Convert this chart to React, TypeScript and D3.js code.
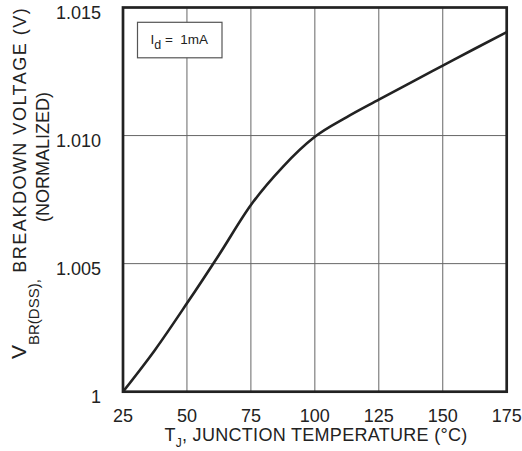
import { useEffect, useRef } from "react";
import * as d3 from "d3";

// junction temperature (°C) and normalized breakdown voltage
const tempC = [25, 37.5, 50, 62.5, 75, 87.5, 100, 112.5, 125, 137.5, 150, 162.5, 175];
const vbrNorm = [
  1.0, 1.00163, 1.00345, 1.00534, 1.00729, 1.00878, 1.00995, 1.01072, 1.0114, 1.01207,
  1.01273, 1.01339, 1.01404,
];
const xTicks = [25, 50, 75, 100, 125, 150, 175];
const yTicks = [1, 1.005, 1.01, 1.015];
const yTickLabels = ["1", "1.005", "1.010", "1.015"];

const FONT = "Liberation Sans, Arial, sans-serif";

export default function App() {
  const ref = useRef<SVGSVGElement>(null);

  useEffect(() => {
    const width = 522;
    const height = 451;
    const margin = { top: 7.5, right: 15.3, bottom: 59.3, left: 123 };
    const w = width - margin.left - margin.right;
    const h = height - margin.top - margin.bottom;

    const root = d3.select(ref.current);
    root.selectAll("*").remove();

    const svg = root
      .append("g")
      .attr("transform", "translate(" + margin.left + "," + margin.top + ")");

    const x = d3.scaleLinear().domain([25, 175]).range([0, w]);
    const y = d3.scaleLinear().domain([1, 1.015]).range([h, 0]);

    // grid
    svg
      .append("g")
      .selectAll("line.gx")
      .data(xTicks.slice(1, -1))
      .enter()
      .append("line")
      .attr("x1", (d) => x(d))
      .attr("x2", (d) => x(d))
      .attr("y1", 0)
      .attr("y2", h)
      .attr("stroke", "#666")
      .attr("stroke-width", 1);
    svg
      .append("g")
      .selectAll("line.gy")
      .data(yTicks.slice(1, -1))
      .enter()
      .append("line")
      .attr("x1", 0)
      .attr("x2", w)
      .attr("y1", (d) => y(d))
      .attr("y2", (d) => y(d))
      .attr("stroke", "#666")
      .attr("stroke-width", 1);

    // legend box
    const lg = svg.append("g").attr("transform", "translate(14.5,14.8)");
    lg.append("rect")
      .attr("width", 84.5)
      .attr("height", 35.5)
      .attr("fill", "#fff")
      .attr("stroke", "#555")
      .attr("stroke-width", 1.2);
    const lt = lg
      .append("text")
      .attr("x", 13)
      .attr("y", 22)
      .style("font-family", FONT)
      .style("font-size", "13.5px")
      .attr("fill", "#222");
    lt.append("tspan").text("I");
    lt.append("tspan").attr("dy", 5).style("font-size", "12.5px").text("d");
    lt.append("tspan").attr("dy", -5).text("\u00a0=\u00a0\u00a01mA");

    // curve
    const line = d3
      .line<number>()
      .x((d, i) => x(tempC[i]))
      .y((d) => y(d))
      .curve(d3.curveMonotoneX);
    svg
      .append("path")
      .datum(vbrNorm)
      .attr("d", line)
      .attr("fill", "none")
      .attr("stroke", "#222")
      .attr("stroke-width", 2.6);

    // frame
    svg
      .append("rect")
      .attr("width", w)
      .attr("height", h)
      .attr("fill", "none")
      .attr("stroke", "#222")
      .attr("stroke-width", 2.7);

    // tick labels
    svg
      .append("g")
      .selectAll("text")
      .data(xTicks)
      .enter()
      .append("text")
      .attr("x", (d) => x(d))
      .attr("y", h + 30)
      .attr("text-anchor", "middle")
      .style("font-family", FONT)
      .style("font-size", "18px")
      .attr("fill", "#222")
      .text((d) => d);
    svg
      .append("g")
      .selectAll("text")
      .data(yTicks)
      .enter()
      .append("text")
      .attr("x", -22)
      .attr("y", (d) => y(d) + 11)
      .attr("text-anchor", "end")
      .style("font-family", FONT)
      .style("font-size", "18px")
      .attr("fill", "#222")
      .text((d, i) => yTickLabels[i]);

    // x axis title
    const xt = root
      .append("text")
      .attr("x", 316)
      .attr("y", 441)
      .attr("text-anchor", "middle")
      .style("font-family", FONT)
      .style("font-size", "18px")
      .style("letter-spacing", "0.3px")
      .attr("fill", "#222");
    xt.append("tspan").text("T");
    xt.append("tspan").attr("dy", 6).style("font-size", "12px").text("J");
    xt.append("tspan").attr("dy", -6).text(", JUNCTION TEMPERATURE (°C)");

    // y axis title
    const yt = root
      .append("text")
      .attr("transform", "translate(25.5,359)rotate(-90)")
      .attr("text-anchor", "start")
      .style("font-family", FONT)
      .style("font-size", "18px")
      .attr("fill", "#222");
    yt.append("tspan").style("font-size", "21px").text("V");
    yt.append("tspan").attr("dy", 13).style("font-size", "15px").text("BR(DSS),");
    yt.append("tspan")
      .attr("dy", -13)
      .style("letter-spacing", "1.5px")
      .text(" BREAKDOWN VOLTAGE (V)");

    root
      .append("text")
      .attr("transform", "translate(49,157)rotate(-90)")
      .attr("text-anchor", "middle")
      .style("font-family", FONT)
      .style("font-size", "18px")
      .attr("fill", "#222")
      .text("(NORMALIZED)");
  }, []);

  return (
    <svg
      ref={ref}
      width={522}
      height={451}
      style={{ position: "absolute", left: 0, top: 0, background: "#fff" }}
    />
  );
}
